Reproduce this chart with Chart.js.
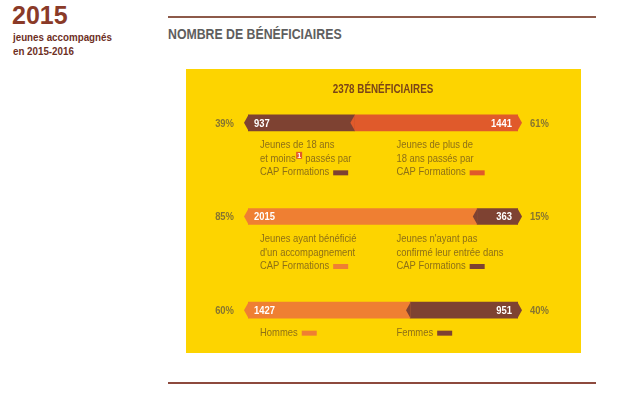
<!DOCTYPE html>
<html>
<head>
<meta charset="utf-8">
<script src="https://cdn.jsdelivr.net/npm/chart.js@4/dist/chart.umd.min.js"></script>
<style>
  body { margin: 0; background: #fff; font-family: "Liberation Sans", Arial, sans-serif; }
  #page { position: relative; width: 640px; height: 405px; overflow: hidden; }
  .abs { position: absolute; white-space: nowrap; transform-origin: 0 0; }
  #year { left: 12px; top: 1px; font-size: 25px; font-weight: bold; color: #8a3a28; }
  #sub { left: 13px; top: 30px; font-size: 11.5px; font-weight: bold; color: #6e2f1f; line-height: 14px; transform: scaleX(0.85); }
  #ruleTop { left: 168px; top: 16px; width: 428px; height: 2px; background: #8d5a4a; }
  #ruleBottom { left: 168px; top: 382px; width: 428px; height: 2px; background: #8d4a3e; }
  #heading { left: 168px; top: 25px; font-size: 15px; font-weight: bold; color: #5e5e5e; transform: scaleX(0.82); }
  #box { left: 186px; top: 69px; width: 395px; height: 284px; background: #fdd400; }
  canvas { position: absolute; left: 0; top: 0; }
</style>
</head>
<body>
<div id="page">
  <div class="abs" id="year">2015</div>
  <div class="abs" id="sub">jeunes accompagnés<br>en 2015-2016</div>
  <div class="abs" id="ruleTop"></div>
  <div class="abs" id="heading">NOMBRE DE BÉNÉFICIAIRES</div>
  <div class="abs" id="box"></div>
  <div class="abs" id="ruleBottom"></div>
  <canvas id="chart" width="640" height="405"></canvas>
</div>
<script>
// Données
const rows = ['Âge', 'Accompagnement', 'Sexe'];
const leftValues = [937, 2015, 1427];
const rightValues = [1441, 363, 951];
const leftPct = ['39%', '85%', '60%'];
const rightPct = ['61%', '15%', '40%'];
const leftLabels = [
    ['Jeunes de 18 ans', 'et moins¹ passés par', 'CAP Formations'],
    ['Jeunes ayant bénéficié', "d'un accompagnement", 'CAP Formations'],
    ['Hommes']
];
const rightLabels = [
    ['Jeunes de plus de', '18 ans passés par', 'CAP Formations'],
    ["Jeunes n'ayant pas", 'confirmé leur entrée dans', 'CAP Formations'],
    ['Femmes']
];

const BROWN = '#7e4232';
const RED = '#e05a2b';
const ORANGE = '#ef7f32';
const leftColors = [BROWN, ORANGE, ORANGE];
const rightColors = [RED, BROWN, BROWN];

const total = leftValues[0] + rightValues[0];
const FONT = '"Liberation Sans", Arial, sans-serif';
const SX = 0.82; // texte condensé

// écrit un texte resserré horizontalement, renvoie sa largeur
function condText(ctx, text, x, y, align) {
    ctx.save();
    ctx.translate(x, y);
    ctx.scale(SX, 1);
    ctx.textAlign = align;
    ctx.fillText(text, 0, 0);
    ctx.restore();
    return ctx.measureText(text).width * SX;
}

// Plugin pour les pointes, les étiquettes et les légendes
const decorPlugin = {
    id: 'decor',
    afterDatasetsDraw(chart) {
        const ctx = chart.ctx;
        const area = chart.chartArea;
        const metaL = chart.getDatasetMeta(0);
        const metaR = chart.getDatasetMeta(1);
        const tip = 4;

        ctx.save();
        // Titre
        ctx.fillStyle = '#7a4518';
        ctx.font = 'bold 12px ' + FONT;
        ctx.textBaseline = 'middle';
        condText(ctx, total + ' BÉNÉFICIAIRES', (area.left + area.right) / 2, 90, 'center');

        rows.forEach((r, i) => {
            const barL = metaL.data[i];
            const barR = metaR.data[i];
            const y = barL.y;
            const h = barL.height;

            // pointe gauche
            ctx.fillStyle = leftColors[i];
            ctx.beginPath();
            ctx.moveTo(barL.base + 0.5, y - h / 2);
            ctx.lineTo(barL.base - tip, y);
            ctx.lineTo(barL.base + 0.5, y + h / 2);
            ctx.fill();

            // pointe droite + chevron de séparation
            ctx.fillStyle = rightColors[i];
            ctx.beginPath();
            ctx.moveTo(barR.x - 0.5, y - h / 2);
            ctx.lineTo(barR.x + tip, y);
            ctx.lineTo(barR.x - 0.5, y + h / 2);
            ctx.fill();
            ctx.beginPath();
            ctx.moveTo(barR.base + 0.5, y - h / 2);
            ctx.lineTo(barR.base - tip, y);
            ctx.lineTo(barR.base + 0.5, y + h / 2);
            ctx.fill();

            // valeurs
            ctx.fillStyle = '#fff';
            ctx.font = 'bold 11.5px ' + FONT;
            ctx.textBaseline = 'middle';
            condText(ctx, String(leftValues[i]), barL.base + 6, y + 0.5, 'left');
            condText(ctx, String(rightValues[i]), barR.x - 6, y + 0.5, 'right');

            // pourcentages
            ctx.fillStyle = '#877530';
            condText(ctx, leftPct[i], barL.base - 14, y + 0.5, 'right');
            condText(ctx, rightPct[i], barR.x + 12, y + 0.5, 'left');

            // libellés
            const colL = area.left + 12;
            const colR = area.left + (area.right - area.left) * 0.55;
            drawLabel(ctx, leftLabels[i], colL, y + 21.5, leftColors[i]);
            drawLabel(ctx, rightLabels[i], colR, y + 21.5, rightColors[i]);
        });
        ctx.restore();
    }
};

function drawLabel(ctx, lines, x, y0, color) {
    ctx.textBaseline = 'alphabetic';
    lines.forEach((line, k) => {
        const base = y0 + k * 13.5 + 4;
        let cx = x;
        const parts = line.split('¹');
        ctx.font = '11.5px ' + FONT;
        ctx.fillStyle = '#8e7016';
        cx += condText(ctx, parts[0], cx, base, 'left');
        if (parts.length > 1) {
            // appel de note
            ctx.fillStyle = RED;
            ctx.fillRect(cx + 0.5, base - 10, 6, 7);
            ctx.fillStyle = '#fff';
            ctx.font = 'bold 7px ' + FONT;
            ctx.textAlign = 'center';
            ctx.fillText('1', cx + 3.5, base - 4);
            cx += 7;
            ctx.font = '11.5px ' + FONT;
            ctx.fillStyle = '#8e7016';
            cx += condText(ctx, parts[1], cx, base, 'left');
        }
        if (k === lines.length - 1) {
            ctx.fillStyle = color;
            ctx.fillRect(cx + 4, base - 5, 15, 5);
        }
    });
}

new Chart(document.getElementById('chart'), {
    type: 'bar',
    data: {
        labels: rows,
        datasets: [
            { data: leftValues, backgroundColor: leftColors, borderWidth: 0, barThickness: 16 },
            { data: rightValues, backgroundColor: rightColors, borderWidth: 0, barThickness: 16 }
        ]
    },
    options: {
        indexAxis: 'y',
        responsive: false,
        animation: false,
        layout: { padding: { left: 248, right: 122, top: 76, bottom: 48 } },
        plugins: { legend: { display: false }, tooltip: { enabled: false } },
        scales: {
            x: { stacked: true, display: false, min: 0, max: total },
            y: { stacked: true, display: false }
        }
    },
    plugins: [decorPlugin]
});
</script>
</body>
</html>
